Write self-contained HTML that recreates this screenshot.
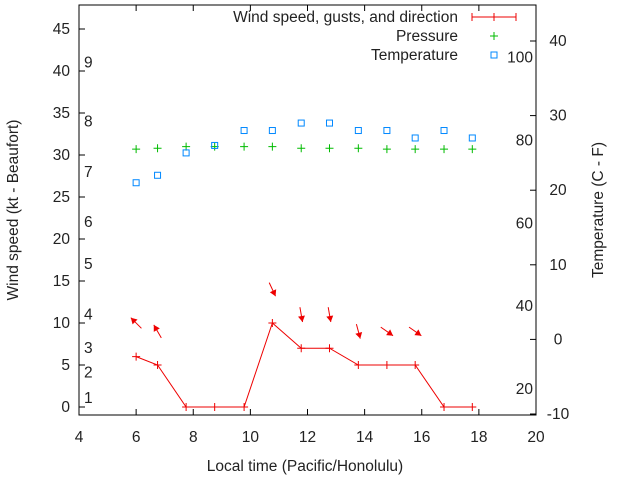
<!DOCTYPE html>
<html><head><meta charset="utf-8"><style>
body{margin:0;background:#fff}
svg text{font-family:"Liberation Sans",sans-serif;font-size:15.5px;fill:#222}
</style></head><body>
<svg id="c" width="640" height="480" xmlns="http://www.w3.org/2000/svg"></svg>
<script>
const times=[6.0,6.75,7.75,8.75,9.78,10.77,11.78,12.77,13.78,14.78,15.77,16.78,17.77];
const wind=[6,5,0,0,0,10,7,7,5,5,5,0,0];
const gust=[10,9,null,null,null,14,11,11,9,9,9,null,null];
const dirFrom=[135,150,null,null,null,335,350,350,345,305,305,null,null];
const pressure=[30.7,30.8,31.0,31.0,31.0,31.0,30.8,30.8,30.8,30.7,30.7,30.7,30.7];
const tempC=[21,22,25,26,28,28,29,29,28,28,27,28,27];
const xTicks=[4,6,8,10,12,14,16,18,20];
const yTicks=[0,5,10,15,20,25,30,35,40,45];
const cTicks=[-10,0,10,20,30,40];
const fTicks=[20,40,60,80,100];
const beaufort=[[1,1.1],[2,4.1],[3,7],[4,11],[5,17],[6,22],[7,28],[8,34],[9,41]];

const svg=document.getElementById('c');const NS='http://www.w3.org/2000/svg';
const L=79,R=536,T=5,B=415;
const X=v=>L+(v-4)*(R-L)/16;
const Y=v=>407-8.4*v;
const YC=c=>414-(c+10)*7.46;
function mk(tag,a,txt){const e=document.createElementNS(NS,tag);for(const k in a)e.setAttribute(k,a[k]);if(txt!=null)e.textContent=txt;svg.appendChild(e);return e;}
let e;
e=mk('rect',{x:L,y:T,width:R-L,height:B-T,fill:'none',stroke:'#000','stroke-width':1});

xTicks.forEach(t=>{const x=X(t);
 mk('line',{x1:x,x2:x,y1:B,y2:B-6,stroke:'#000'});mk('line',{x1:x,x2:x,y1:T,y2:T+6,stroke:'#000'});
 e=mk('text',{x:x,y:442,'text-anchor':'middle'},t);
 });
yTicks.forEach(t=>{const y=Y(t);
 mk('line',{x1:L,x2:L+6,y1:y,y2:y,stroke:'#000'});
 e=mk('text',{x:70,y:y+5,'text-anchor':'end'},t);
 });
cTicks.forEach(t=>{const y=YC(t);
 mk('line',{x1:R,x2:R-6,y1:y,y2:y,stroke:'#000'});
 e=mk('text',{x:558,y:y+5,'text-anchor':'middle'},t);
 });
fTicks.forEach(t=>{const y=YC((t-32)*5/9);
 e=mk('text',{x:533,y:y+5,'text-anchor':'end'},t);
 });
beaufort.forEach(b=>{e=mk('text',{x:84,y:Y(b[1])+5},b[0]);
 });
e=mk('text',{x:305,y:471,'text-anchor':'middle'},'Local time (Pacific/Honolulu)');

e=mk('text',{x:18,y:210,'text-anchor':'middle',transform:'rotate(-90 18 210)'},'Wind speed (kt - Beaufort)');

e=mk('text',{x:603,y:210,'text-anchor':'middle',transform:'rotate(-90 603 210)'},'Temperature (C - F)');

e=mk('polyline',{points:times.map((t,i)=>X(t)+','+Y(wind[i])).join(' '),fill:'none',stroke:'#e00','stroke-width':1});

times.forEach((t,i)=>{const x=X(t),y=Y(wind[i]);
 e=mk('path',{d:`M${x-4},${y}h8M${x},${y-4}v8`,stroke:'#e00'});
 
 if(gust[i]!=null){const a=(dirFrom[i]+180)*Math.PI/180;const dx=Math.sin(a)*7.5,dy=-Math.cos(a)*7.5;
  const cx=x,cy=Y(gust[i]);const hx=cx+dx,hy=cy+dy;const ux=dx/7.5,uy=dy/7.5;
  e=mk('g',{});
  const l=document.createElementNS(NS,'line');l.setAttribute('x1',cx-dx);l.setAttribute('y1',cy-dy);l.setAttribute('x2',hx);l.setAttribute('y2',hy);l.setAttribute('stroke','#e00');e.appendChild(l);
  const p=document.createElementNS(NS,'polygon');
  p.setAttribute('points',`${hx},${hy} ${hx-ux*6-uy*3.5},${hy-uy*6+ux*3.5} ${hx-ux*6+uy*3.5},${hy-uy*6-ux*3.5}`);p.setAttribute('fill','#e00');e.appendChild(p);}
});
times.forEach((t,i)=>{const x=X(t),y=Y(pressure[i]);
 e=mk('path',{d:`M${x-4},${y}h8M${x},${y-4}v8`,stroke:'#0b0'});
 });
times.forEach((t,i)=>{const x=X(t),y=YC(tempC[i]);
 e=mk('rect',{x:x-3,y:y-3,width:6,height:6,fill:'none',stroke:'#08f'});
 });
e=mk('text',{x:458,y:22,'text-anchor':'end'},'Wind speed, gusts, and direction');
mk('path',{d:'M472,17h44M472,13v8M516,13v8M494,13v8',stroke:'#e00'});
e=mk('text',{x:458,y:41,'text-anchor':'end'},'Pressure');
mk('path',{d:'M490,36h8M494,32v8',stroke:'#0b0'});
e=mk('text',{x:458,y:60,'text-anchor':'end'},'Temperature');
mk('rect',{x:491,y:52,width:6,height:6,fill:'none',stroke:'#08f'});
</script>
</body></html>
